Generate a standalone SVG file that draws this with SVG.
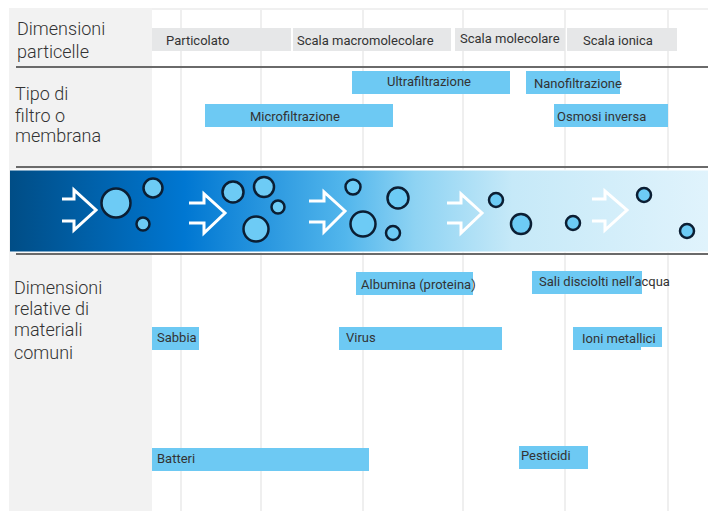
<svg xmlns="http://www.w3.org/2000/svg" width="708" height="511" viewBox="0 0 708 511">
<defs>
<linearGradient id="bandGrad" x1="10" y1="0" x2="708" y2="0" gradientUnits="userSpaceOnUse">
<stop offset="0" stop-color="#004d86"/>
<stop offset="0.25" stop-color="#0077d2"/>
<stop offset="0.48" stop-color="#52b6ec"/>
<stop offset="0.58" stop-color="#8ed3f3"/>
<stop offset="0.72" stop-color="#c6e9f8"/>
<stop offset="1" stop-color="#e0f3fc"/>
</linearGradient>
<style>
.panel{fill:#f2f2f2}
.grid{stroke:#efefef;stroke-width:2}
.rule{stroke:#6a6a6a;stroke-width:2}
.gray{fill:#e6e7e8}
.blue{fill:#6dc9f3}
.lbl{font-family:Roboto,"Liberation Sans",sans-serif;font-size:13px;fill:#333}
.head{font-family:Roboto,"Liberation Sans",sans-serif;font-size:18px;font-weight:300;fill:#333}
.arrow{fill:none;stroke:#fff;stroke-width:3;stroke-linejoin:miter}
.dot{fill:#6dcbf5;stroke:#0b1e33;stroke-width:2.5}
</style>
</defs>
<rect width="708" height="511" fill="#fff"/>
<rect class="panel" x="9" y="8" width="143" height="503"/>
<rect x="152" y="8" width="556" height="2" fill="#f0f0f0"/>
<g id="grid">
<line class="grid" x1="181" y1="10" x2="181" y2="511"/>
<line class="grid" x1="261" y1="10" x2="261" y2="511"/>
<line class="grid" x1="363" y1="10" x2="363" y2="511"/>
<line class="grid" x1="463" y1="10" x2="463" y2="511"/>
<line class="grid" x1="565" y1="10" x2="565" y2="511"/>
<line class="grid" x1="668" y1="10" x2="668" y2="511"/>
</g>
<g id="rules">
<line class="rule" x1="16" y1="67" x2="708" y2="67"/>
<line class="rule" x1="16" y1="167" x2="708" y2="167"/>
<line class="rule" x1="16" y1="254" x2="708" y2="254"/>
</g>
<g id="headings">
<text class="head" x="17" y="35">Dimensioni</text>
<text class="head" x="17" y="58">particelle</text>
<text class="head" x="15" y="100">Tipo di</text>
<text class="head" x="15" y="122">filtro o</text>
<text class="head" x="15" y="142">membrana</text>
<text class="head" x="14" y="294">Dimensioni</text>
<text class="head" x="14" y="315">relative di</text>
<text class="head" x="14" y="336">materiali</text>
<text class="head" x="14" y="359">comuni</text>
</g>
<g id="particolato"><rect class="gray" x="152" y="28" width="139" height="23"/><text class="lbl" x="166" y="45">Particolato</text></g>
<g id="scala-macromolecolare"><rect class="gray" x="293" y="28" width="158" height="23"/><text class="lbl" x="297" y="45">Scala macromolecolare</text></g>
<g id="scala-molecolare"><rect class="gray" x="455" y="28" width="110" height="23"/><text class="lbl" x="460" y="43">Scala molecolare</text></g>
<g id="scala-ionica"><rect class="gray" x="567" y="28" width="110" height="23"/><text class="lbl" x="583" y="45">Scala ionica</text></g>
<g id="ultrafiltrazione"><rect class="blue" x="352" y="71" width="158" height="23"/><text class="lbl" x="387" y="86">Ultrafiltrazione</text></g>
<g id="nanofiltrazione"><rect class="blue" x="526" y="71" width="94" height="23"/><text class="lbl" x="534" y="88">Nanofiltrazione</text></g>
<g id="microfiltrazione"><rect class="blue" x="205" y="104" width="188" height="23"/><text class="lbl" x="250" y="121">Microfiltrazione</text></g>
<g id="osmosi-inversa"><rect class="blue" x="554" y="104" width="114" height="23"/><text class="lbl" x="557" y="121">Osmosi inversa</text></g>
<g id="band">
<rect x="10" y="169.5" width="698" height="83" fill="#fff"/>
<rect x="10" y="170.5" width="698" height="81" fill="url(#bandGrad)"/>
</g>
<g id="flow-arrows">
<polyline class="arrow" points="62,199 74,199 74,190 96,210 74,230 74,221 62,221"/>
<polyline class="arrow" points="189,203 204,203 204,194 225,213 204,233 204,223 189,223"/>
<polyline class="arrow" points="309,201 324,201 324,192 345,211 324,232 324,222 309,222"/>
<polyline class="arrow" points="447,203 461,203 461,194 482,213 461,233 461,223 447,223"/>
<polyline class="arrow" points="592,199 605,199 605,191 627,210 605,230 605,221 592,221"/>
</g>
<g id="particles">
<circle class="dot" cx="116" cy="203" r="14.5"/>
<circle class="dot" cx="153" cy="188" r="9.5"/>
<circle class="dot" cx="143" cy="224" r="6.5"/>
<circle class="dot" cx="233" cy="192" r="10.5"/>
<circle class="dot" cx="264" cy="187" r="10"/>
<circle class="dot" cx="278" cy="207" r="6.5"/>
<circle class="dot" cx="256" cy="229" r="12.5"/>
<circle class="dot" cx="353" cy="187" r="7.5"/>
<circle class="dot" cx="398" cy="198" r="10.5"/>
<circle class="dot" cx="363" cy="224" r="12.5"/>
<circle class="dot" cx="393" cy="233" r="7"/>
<circle class="dot" cx="496" cy="200" r="7"/>
<circle class="dot" cx="521" cy="224" r="10"/>
<circle class="dot" cx="573" cy="223" r="7"/>
<circle class="dot" cx="644" cy="195" r="7"/>
<circle class="dot" cx="687" cy="231" r="7"/>
</g>
<g id="albumina"><rect class="blue" x="356" y="272" width="117" height="23"/><text class="lbl" x="361" y="289">Albumina (proteina)</text></g>
<g id="sali-disciolti"><rect class="blue" x="532" y="271" width="110" height="23"/><text class="lbl" x="539" y="286">Sali disciolti nell’acqua</text></g>
<g id="sabbia"><rect class="blue" x="152" y="327" width="47" height="23"/><text class="lbl" x="157" y="342">Sabbia</text></g>
<g id="virus"><rect class="blue" x="339" y="327" width="163" height="23"/><text class="lbl" x="346" y="342">Virus</text></g>
<g id="ioni-metallici"><rect class="blue" x="573" y="327" width="89" height="20"/><rect class="blue" x="573" y="327" width="68" height="23"/><text class="lbl" x="582" y="343">Ioni metallici</text></g>
<g id="batteri"><rect class="blue" x="152" y="448" width="217" height="23"/><text class="lbl" x="157" y="463">Batteri</text></g>
<g id="pesticidi"><rect class="blue" x="519" y="446" width="69" height="23"/><text class="lbl" x="521" y="460">Pesticidi</text></g>
<g id="connectors"/>
</svg>
